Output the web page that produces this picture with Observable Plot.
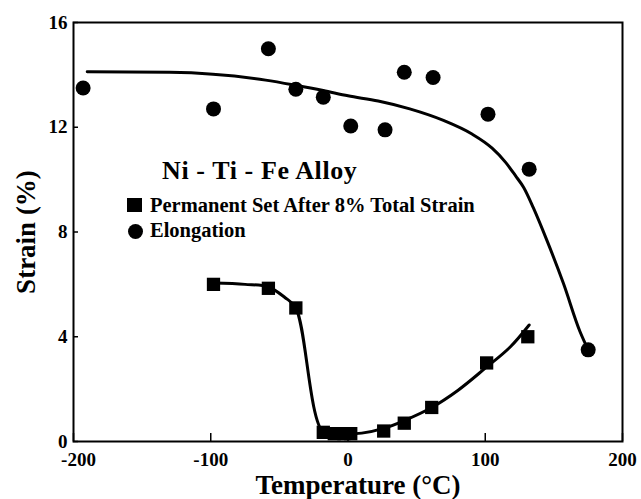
<!DOCTYPE html>
<html><head><meta charset="utf-8">
<script src="https://cdn.jsdelivr.net/npm/d3@7"></script>
<script src="https://cdn.jsdelivr.net/npm/@observablehq/plot@0.6"></script>
<style>
body{margin:0;background:#fff;}
#wrap{position:relative;width:641px;height:499px;font-family:"Liberation Serif","DejaVu Serif",serif;font-weight:bold;color:#000;}
.lg{position:absolute;white-space:nowrap;font-weight:bold;z-index:2;}
#lgTitle{left:162px;top:158px;font-size:26px;line-height:26px;letter-spacing:0.6px;}
#lgSet{left:150px;top:195px;font-size:20.5px;line-height:20.5px;}
#lgEl{left:150px;top:220px;font-size:20.5px;line-height:20.5px;}
#mkSq{position:absolute;left:127px;top:198px;width:15px;height:14px;background:#000;z-index:2;}
#mkCi{position:absolute;left:128px;top:224px;width:15px;height:15px;border-radius:50%;background:#000;z-index:2;}
svg text{font-family:"Liberation Serif","DejaVu Serif",serif;font-weight:bold;}
</style></head>
<body><div id="wrap">
<div class="lg" id="lgTitle">Ni - Ti - Fe Alloy</div>
<span id="mkSq"></span><div class="lg" id="lgSet">Permanent Set After 8% Total Strain</div>
<span id="mkCi"></span><div class="lg" id="lgEl">Elongation</div>
</div>
<script>
// Elongation measurements
const elongT = [-193, -98, -58, -38, -18, 2, 27, 41, 62, 102, 132, 175];
const elongV = [13.5, 12.7, 15.0, 13.45, 13.15, 12.05, 11.9, 14.1, 13.9, 12.5, 10.4, 3.5];
// Elongation trend curve
const elongCurveT = [-190, -130, -60, -38, -18, 0, 22, 45, 70, 90, 105, 115, 122, 128, 135, 145, 157, 169, 175];
const elongCurveV = [14.12, 14.1, 13.8, 13.6, 13.4, 13.2, 13.0, 12.7, 12.25, 11.75, 11.2, 10.65, 10.15, 9.7, 8.93, 7.67, 6.03, 4.2, 3.5];
// Permanent set after 8% total strain
const setT = [-98, -58, -38, -18, -10, -3, 2, 26, 41, 61, 101, 131];
const setV = [6.0, 5.85, 5.1, 0.35, 0.3, 0.3, 0.3, 0.4, 0.7, 1.3, 3.0, 4.0];
// Permanent set trend curve
const setCurveT = [-98, -75, -58, -46, -38, -18, -5, 10, 26, 41, 61, 80, 100, 118, 132];
const setCurveV = [6.05, 6.0, 5.9, 5.5, 5.1, 0.35, 0.3, 0.32, 0.5, 0.8, 1.3, 1.95, 2.8, 3.6, 4.45];
// Axis ticks
const xTicks = [-200, -100, 0, 100, 200];
const yTicks = [0, 4, 8, 12, 16];

const elong = elongT.map((t, i) => ({t, v: elongV[i]}));
const elongCurve = elongCurveT.map((t, i) => ({t, v: elongCurveV[i]}));
const pset = setT.map((t, i) => ({t, v: setV[i]}));
const psetCurve = setCurveT.map((t, i) => ({t, v: setCurveV[i]}));

const chart = Plot.plot({
  width: 641, height: 499,
  marginLeft: 73, marginRight: 19, marginTop: 22, marginBottom: 58,
  style: {fontFamily: '"Liberation Serif", serif', background: "#fff", color: "#000"},
  x: {domain: [-200, 200]},
  y: {domain: [0, 16]},
  marks: [
    Plot.frame({stroke: "#000", strokeWidth: 2}),
    Plot.axisX({ticks: xTicks, tickSize: -8, tickPadding: 19, label: "Temperature (\u00B0C)", labelAnchor: "center", labelArrow: "none", labelOffset: 52, fontSize: 19, tickFormat: d => d < 0 ? "-" + Math.abs(d) : String(d), strokeWidth: 1.5}),
    Plot.axisY({ticks: yTicks, tickSize: -5, tickPadding: 11, label: "Strain (%)", labelAnchor: "center", labelArrow: "none", labelOffset: 58, fontSize: 19, strokeWidth: 1.5}),
    Plot.line(elongCurve, {x: "t", y: "v", curve: "monotone-x", stroke: "#000", strokeWidth: 3}),
    Plot.line(psetCurve, {x: "t", y: "v", curve: "catmull-rom", stroke: "#000", strokeWidth: 3}),
    Plot.dot(elong, {x: "t", y: "v", r: 7.5, fill: "#000", stroke: "none"}),
    Plot.dot(pset, {x: "t", y: "v", r: 7.5, symbol: "square", fill: "#000", stroke: "none"})
  ]
});
chart.style.position = "absolute"; chart.style.left = "0"; chart.style.top = "0"; chart.style.zIndex = 1;
document.getElementById("wrap").appendChild(chart);
chart.querySelectorAll("[aria-label='x-axis label'] text, [aria-label='y-axis label'] text").forEach(t => {
  t.style.fontSize = "27px";
});
chart.querySelectorAll("[aria-label='x-axis label'] text").forEach(t => t.setAttribute("dx", 10));
chart.querySelectorAll("[aria-label='x-axis tick label'] text").forEach(t => {
  if (t.textContent.trim() === "-200") t.setAttribute("dx", 5);
});
</script></body></html>
